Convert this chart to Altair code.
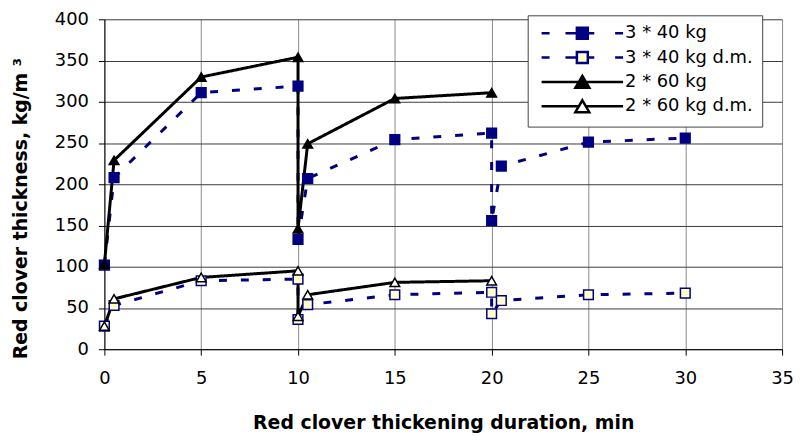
import altair as alt
import pandas as pd

# ---- data ----
series_names = ["3 * 40 kg", "3 * 40 kg d.m.", "2 * 60 kg", "2 * 60 kg d.m."]

x_3x40 = [0, 0.5, 5, 10, 10, 10.5, 15, 20, 20, 20.5, 25, 30]
y_3x40 = [102, 208, 311, 319, 133, 207, 254, 262, 156, 222, 251, 256]
y_3x40_dm = [28, 53, 83, 85, 36, 54, 66, 69, 43, 59, 66, 68]

x_2x60 = [0, 0.5, 5, 10, 10, 10.5, 15, 20]
y_2x60 = [103, 229, 330, 354, 146, 249, 304, 311]
y_2x60_dm = [28, 61, 87, 95, 40, 66, 81, 83]

x_ticks = [0, 5, 10, 15, 20, 25, 30, 35]
y_ticks = [0, 50, 100, 150, 200, 250, 300, 350, 400]

rows = []
for name, xs, ys in [
    (series_names[0], x_3x40, y_3x40),
    (series_names[1], x_3x40, y_3x40_dm),
    (series_names[2], x_2x60, y_2x60),
    (series_names[3], x_2x60, y_2x60_dm),
]:
    for i, (xv, yv) in enumerate(zip(xs, ys)):
        rows.append({"series": name, "x": xv, "y": yv, "idx": i})
df = pd.DataFrame(rows)

# ---- styles ----
NAVY = "#000080"
line_colors = [NAVY, NAVY, "#000000", "#000000"]
dashes = [[8, 14], [8, 14], [1, 0], [1, 0]]
fills = [NAVY, "#FFFFCC", "#000000", "#FFFFFF"]
strokes = [NAVY, NAVY, "#000000", "#000000"]
plot_shapes = ["square", "square", "triangle-up", "triangle-up"]

dash_line = "M-8.2,0H-6.6M-3.4,0H-1.1M1.1,0H2.4M6.6,0H8.2"
solid_line = "M-8.2,0H-0.7M0.7,0H8.2"
sq = "M-1.1,-1.1H1.1V1.1H-1.1Z"
tri = "M0,-1.2L1.4,1.2L-1.4,1.2Z"
legend_shapes = [dash_line + sq, dash_line + sq, solid_line + tri, solid_line + tri]

FONT = "DejaVu Sans"

x_enc = alt.X(
    "x:Q",
    scale=alt.Scale(domain=[0, 35], nice=False),
    axis=alt.Axis(
        values=x_ticks, grid=True, gridColor="#8a8a8a", gridWidth=1,
        domainColor="black", domainWidth=1, tickColor="black", tickSize=6,
        labelFont=FONT, labelFontSize=18, labelColor="black", labelPadding=15,
        labelFlush=False, labelAngle=0,
        title="Red clover thickening duration, min",
        titleFont=FONT, titleFontSize=19, titleFontWeight="bold", titleColor="black",
        titleY=80, titleBaseline="alphabetic",
    ),
)
y_enc = alt.Y(
    "y:Q",
    scale=alt.Scale(domain=[0, 400], nice=False),
    axis=alt.Axis(
        values=y_ticks, grid=True, gridColor="#3a3a3a", gridWidth=1,
        domainColor="black", domainWidth=1, tickColor="black", tickSize=6,
        labelFont=FONT, labelFontSize=18, labelColor="black", labelPadding=10,
        labelFlush=False,
        title="Red clover thickness, kg/m  \u00b3",
        titleFont=FONT, titleFontSize=19, titleFontWeight="bold", titleColor="black",
        titleAngle=270, titleX=-78, titleY=190, titleAlign="center",
        titleBaseline="alphabetic",
    ),
)

base = alt.Chart(df)

lines = base.mark_line(strokeWidth=3).encode(
    x=x_enc,
    y=y_enc,
    color=alt.Color("series:N", scale=alt.Scale(domain=series_names, range=line_colors), legend=None),
    strokeDash=alt.StrokeDash("series:N", scale=alt.Scale(domain=series_names, range=dashes), legend=None),
    detail="series:N",
    order="idx:Q",
)

points = base.mark_point(filled=True, opacity=1, strokeWidth=1.5).encode(
    x="x:Q",
    y="y:Q",
    shape=alt.Shape("series:N", scale=alt.Scale(domain=series_names, range=plot_shapes), legend=None),
    fill=alt.Fill("series:N", scale=alt.Scale(domain=series_names, range=fills), legend=None),
    stroke=alt.Stroke("series:N", scale=alt.Scale(domain=series_names, range=strokes), legend=None),
    size=alt.Size("series:N", scale=alt.Scale(domain=series_names, range=[95, 95, 140, 140]), legend=None),
)

legend_kw = dict(
    title=None, orient="none", legendX=426, legendY=-4,
    padding=9, rowPadding=2.5,
    fillColor="white", strokeColor="#444444",
    labelFont=FONT, labelFontSize=18, labelColor="black",
    symbolSize=100, symbolStrokeWidth=2.5, symbolOffset=37, labelOffset=34,
)

legend_layer = base.transform_filter("false").mark_point(filled=True, opacity=1, size=100).encode(
    x="x:Q",
    y="y:Q",
    shape=alt.Shape("series:N", scale=alt.Scale(domain=series_names, range=legend_shapes),
                    legend=alt.Legend(**legend_kw)),
    fill=alt.Fill("series:N", scale=alt.Scale(domain=series_names, range=fills),
                  legend=alt.Legend(**legend_kw)),
    stroke=alt.Stroke("series:N", scale=alt.Scale(domain=series_names, range=strokes),
                      legend=alt.Legend(**legend_kw)),
)

chart = (
    alt.layer(lines, points, legend_layer)
    .resolve_scale(shape="independent", fill="independent", stroke="independent")
    .properties(
        width=682, height=332,
        autosize=alt.AutoSizeParams(type="none"),
        padding={"left": 97, "top": 10, "right": 12, "bottom": 86},
        background="white",
    )
    .configure_view(stroke=None)
    .configure_legend(strokeWidth=1)
)

chart.save("out.html", embed_options={"renderer": "svg", "actions": False})
